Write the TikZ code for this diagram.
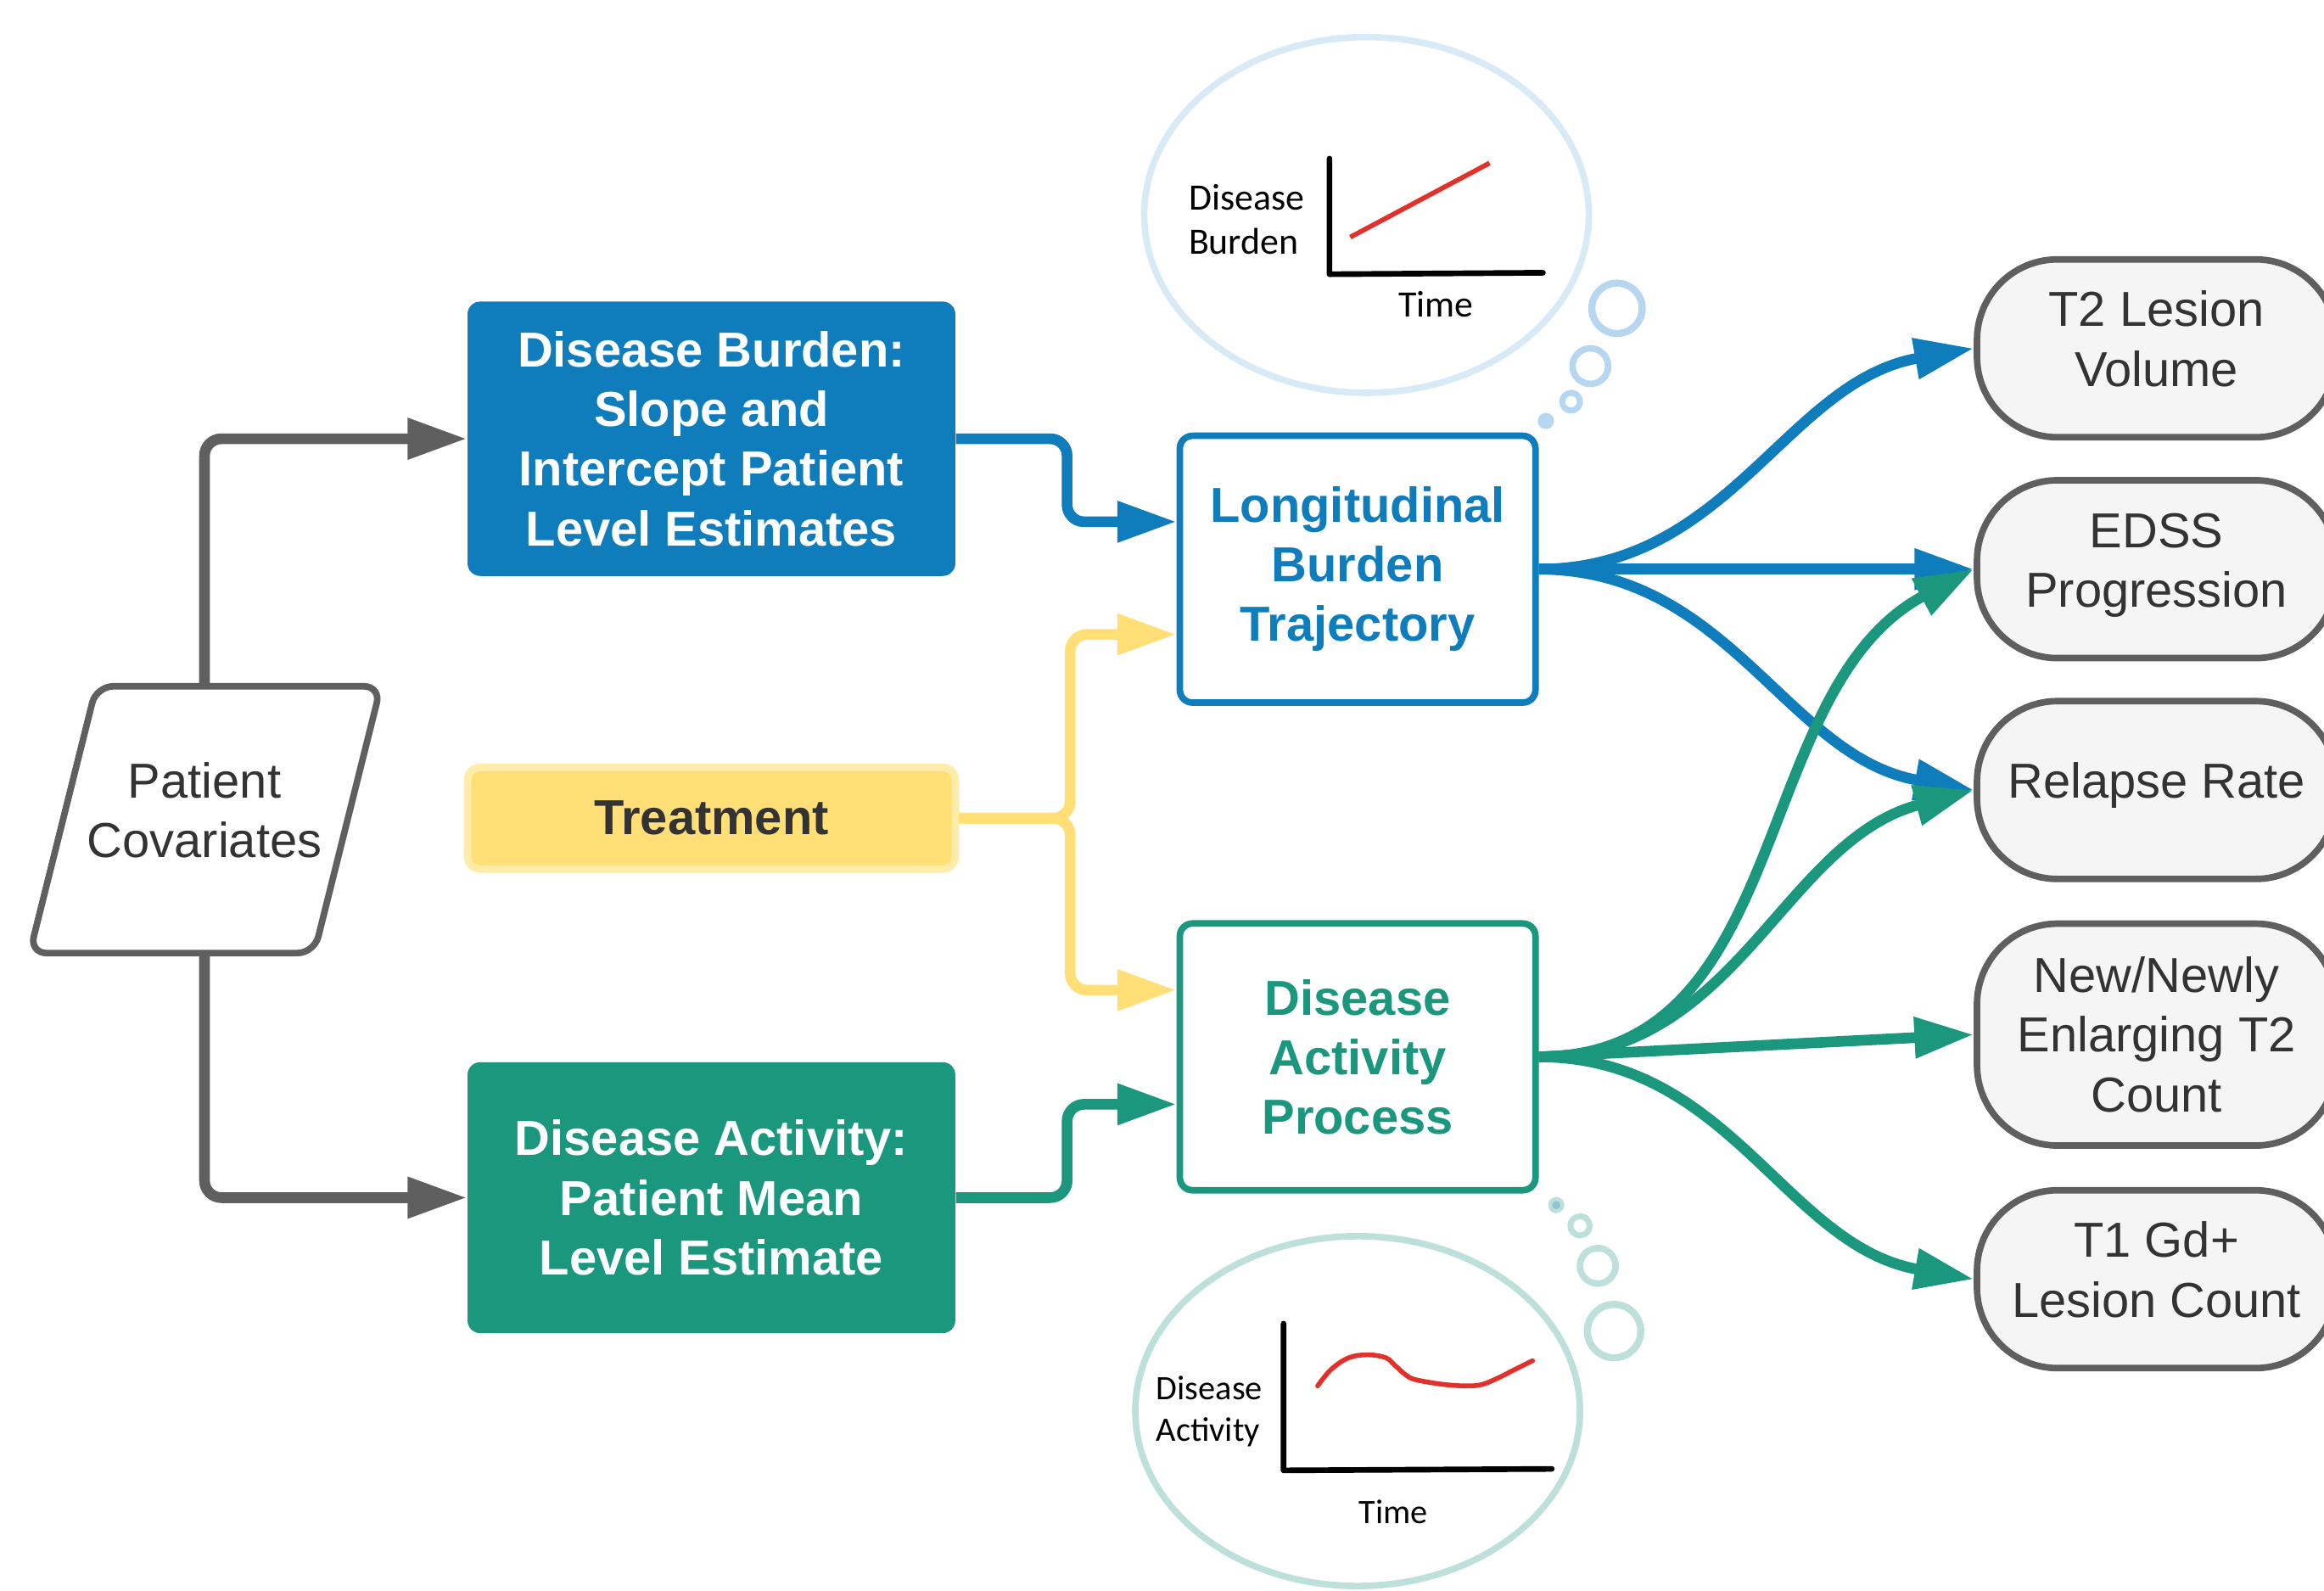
\documentclass[tikz,border=0pt]{standalone}
\usepackage{fontspec}
\setmainfont{Liberation Sans}
\newfontfamily\sketchfont{Carlito}
\usetikzlibrary{arrows.meta,calc}
\definecolor{burdenblue}{RGB}{15,124,188}
\definecolor{activegreen}{RGB}{27,151,126}
\definecolor{treatyellow}{RGB}{255,223,118}
\definecolor{treatrim}{RGB}{255,236,168}
\definecolor{covgray}{RGB}{95,95,95}
\definecolor{darktext}{RGB}{51,51,51}
\definecolor{outfill}{RGB}{245,245,245}
\definecolor{thinkblue}{RGB}{217,234,247}
\definecolor{bubbleblue}{RGB}{183,215,240}
\definecolor{thinkteal}{RGB}{189,224,218}
\definecolor{dotblue}{RGB}{142,197,216}
\definecolor{trendred}{RGB}{224,49,42}
\newcommand{\boxfont}{\fontsize{16.5}{20}\selectfont}
\newcommand{\lift}[1]{\raisebox{-3pt}[0pt][0pt]{\begin{tabular}{@{}c@{}}#1\end{tabular}}}

\begin{document}
\begin{tikzpicture}[x=0.0175cm,y=-0.0175cm,line join=round,
   link/.style={line width=3.6pt,rounded corners=0.2cm,
      -{Triangle[length=0.7cm,width=0.46cm]}},
   estbox/.style={rounded corners=0.15cm,minimum width=5.76cm,
      text=white,align=center,font=\boxfont\bfseries},
   procbox/.style={draw,fill=white,line width=2.2pt,rounded corners=0.15cm,
      minimum width=4.2cm,minimum height=3.15cm,align=center,
      font=\boxfont\bfseries},
   outcome/.style={draw=covgray,fill=outfill,line width=2.2pt,
      rounded corners=0.95cm,minimum width=4.24cm,minimum height=2.1cm,
      align=center,text=darktext,font=\boxfont},
   sketch/.style={align=left,font=\sketchfont\fontsize{12.5}{15}\selectfont},
   axis/.style={line width=1.9pt,line cap=round}]
   \clip (0,0) rectangle (1568,1073);

   \draw[thinkblue,line width=2.2pt] (922,145) ellipse [x radius=150,y radius=120];
   \draw[bubbleblue,line width=2.4pt] (1091,208) circle (17);
   \draw[bubbleblue,line width=2.2pt] (1073,247) circle (12);
   \draw[bubbleblue,line width=2pt] (1060,271) circle (6);
   \fill[bubbleblue] (1043,284) circle (5.5);
   \draw[axis] (897,107) -- (897,185) -- (1041,184);
   \draw[trendred,line width=1.6pt] (911,160) -- (1005,110);
   \node[sketch] (burdenlbl) at (841,148) {Disease\\Burden};
   \node[sketch] (burdentime) at (969,205) {Time};

   \draw[thinkteal,line width=2.2pt] (916,952) ellipse [x radius=150,y radius=118];
   \fill[thinkteal] (1050,813) circle (5.5);
   \fill[dotblue] (1050,813) circle (2.8);
   \draw[thinkteal,line width=2pt] (1066,827) circle (6.5);
   \draw[thinkteal,line width=2.2pt] (1078,854) circle (12);
   \draw[thinkteal,line width=2.4pt] (1089,898) circle (18);
   \draw[axis] (866,893) -- (866,992) -- (1047,991);
   \draw[trendred,line width=1.6pt,line cap=round] plot[smooth,tension=0.6]
      coordinates {(889,935) (898,924) (910,916) (923,914) (935,916) (941,921)
      (949,928) (956,931) (974,934) (990,935) (1000,934) (1010,930)
      (1020,925) (1034,918)};
   \node[sketch,font=\sketchfont\fontsize{11.5}{14}\selectfont] (actlbl) at (816,952) {Disease\\Activity};
   \node[sketch,font=\sketchfont\fontsize{11.5}{14}\selectfont] (acttime) at (940,1020) {Time};

   \draw[covgray,fill=white,line width=2.2pt,rounded corners=0.2cm]
      (65,463) -- (257,463) -- (212,643) -- (20,643) -- cycle;
   \node[minimum height=3.15cm,text=darktext,font=\boxfont] (cov) at (138,553)
      {\lift{Patient\\Covariates}};

   \node[estbox,fill=burdenblue,minimum height=3.24cm] (burden) at (480,296)
      {Disease Burden:\\Slope and\\Intercept Patient\\Level Estimates};
   \node[estbox,fill=treatyellow,draw=treatrim,line width=2.5pt,minimum height=1.2cm,
      text=darktext] (treat) at (480,552) {Treatment};
   \node[estbox,fill=activegreen,minimum height=3.2cm] (activity) at (480,808)
      {Disease Activity:\\Patient Mean\\Level Estimate};

   \node[procbox,draw=burdenblue,text=burdenblue] (lbt) at (916,384)
      {Longitudinal\\Burden\\Trajectory};
   \node[procbox,draw=activegreen,text=activegreen] (dap) at (916,713)
      {Disease\\Activity\\Process};

   \node[outcome] (t2vol) at (1455,235) {\lift{T2 Lesion\\Volume}};
   \node[outcome] (edss) at (1455,384) {\lift{EDSS\\Progression}};
   \node[outcome] (relapse) at (1455,533) {\lift{Relapse Rate}};
   \node[outcome,minimum height=2.62cm] (newt2) at (1455,698) {New/Newly\\Enlarging T2\\Count};
   \node[outcome] (gdles) at (1455,863) {\lift{T1 Gd+\\Lesion Count}};

   \draw[link,covgray] (cov.north) |- (burden.west);
   \draw[link,covgray] (cov.south) |- (activity.west);

   \draw[link,burdenblue] (burden.east) -- ++(75,0) |- ($(lbt.west)+(0,-32)$);
   \draw[link,treatyellow] (treat.east) -- ++(75,0) |- ($(lbt.west)+(0,44)$);
   \draw[link,treatyellow] (treat.east) -- ++(75,0) |- ($(dap.west)+(0,-45)$);
   \draw[link,activegreen] (activity.east) -- ++(75,0) |- ($(dap.west)+(0,32)$);

   \draw[link,burdenblue] (lbt.east) to[out=0,in=190] (t2vol.west);
   \draw[link,burdenblue] (lbt.east) -- (edss.west);
   \draw[link,burdenblue] (lbt.east) to[out=0,in=170] (relapse.west);

   \draw[link,activegreen] (dap.east) to[out=0,in=208] (edss.west);
   \draw[link,activegreen] (dap.east) to[out=0,in=195] (relapse.west);
   \draw[link,activegreen] (dap.east) -- (newt2.west);
   \draw[link,activegreen] (dap.east) to[out=0,in=170] (gdles.west);
\end{tikzpicture}
\end{document}
